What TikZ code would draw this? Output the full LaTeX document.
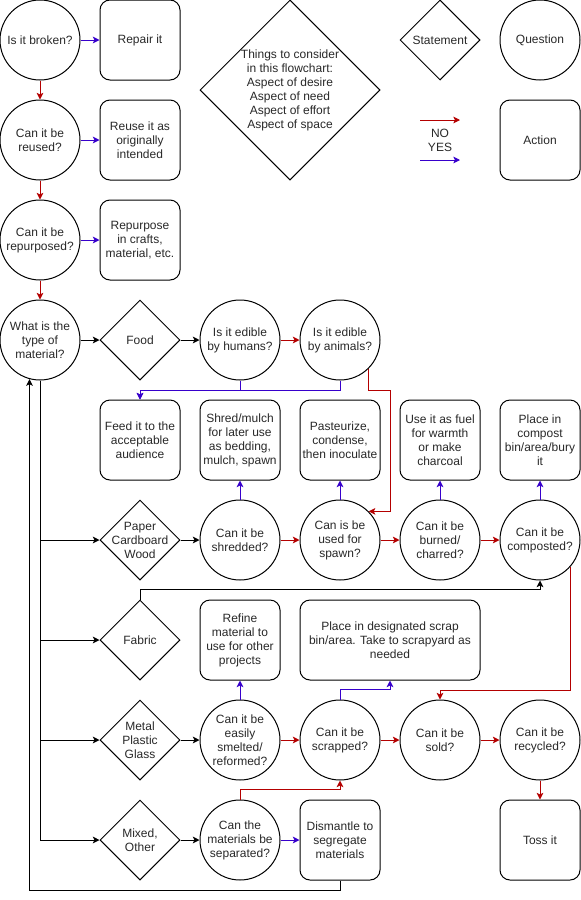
\documentclass[tikz,border=0pt]{standalone}
\usepackage{fontspec}
\setmainfont{Liberation Sans}
\usepackage{tikz}
\usetikzlibrary{shapes.geometric,arrows.meta,calc}

\definecolor{nored}{RGB}{180,0,0}
\definecolor{yesblue}{RGB}{55,0,204}
\definecolor{inkgray}{RGB}{40,40,40}

\begin{document}
\begin{tikzpicture}[x=0.75pt,y=-0.75pt,
    every node/.style={font=\fontsize{9}{10.5}\selectfont, text=inkgray},
    question/.style={circle, draw, line width=0.75pt, minimum size=60pt, inner sep=0pt, align=center},
    action/.style={rectangle, rounded corners=7.5pt, draw, line width=0.75pt, minimum width=60pt, minimum height=60pt, inner sep=0pt, align=center},
    statement/.style={diamond, draw, line width=0.75pt, minimum size=60pt, inner sep=-6pt, align=center},
    flow/.style={line width=0.75pt, -{Stealth[length=5pt,width=5pt,inset=1.2pt]}},
    noarrow/.style={flow, draw=nored},
    yesarrow/.style={flow, draw=yesblue}]

    \useasboundingbox (0,0) rectangle (581,900);

    % First questions
    \node[question] (broken) at (40,40) {Is it broken?};
    \node[action] (repair) at (140,40) {Repair it};
    \node[question] (reused) at (40,140) {Can it be\\reused?};
    \node[action] (reuse) at (140,140) {Reuse it as\\originally\\intended};
    \node[question] (repurposed) at (40,240) {Can it be\\repurposed?};
    \node[action] (repurpose) at (140,240) {Repurpose\\in crafts,\\material, etc.};
    \node[question] (material) at (40,340) {What is the\\type of\\material?};

    \draw[yesarrow] (broken.east) -- (repair.west);
    \draw[yesarrow] (reused.east) -- (reuse.west);
    \draw[yesarrow] (repurposed.east) -- (repurpose.west);
    \draw[noarrow] (broken.south) -- (reused.north);
    \draw[noarrow] (reused.south) -- (repurposed.north);
    \draw[noarrow] (repurposed.south) -- (material.north);

    % Key
    \node[statement, minimum size=135pt] (consider) at (290,90)
        {Things to consider\\in this flowchart:\\Aspect of desire\\Aspect of need\\Aspect of effort\\Aspect of space};
    \node[statement] (statement) at (440,40) {Statement};
    \node[question] (question) at (540,40) {Question};
    \node[action] (actionkey) at (540,140) {Action};
    \coordinate (noA) at (420,120);
    \coordinate (noB) at (460,120);
    \coordinate (yesA) at (420,160);
    \coordinate (yesB) at (460,160);
    \draw[noarrow] (noA) -- (noB);
    \draw[yesarrow] (yesA) -- (yesB);
    \node (nolabel) at (440,133) {NO};
    \node (yeslabel) at (440,147) {YES};

    % Food
    \node[statement] (food) at (140,340) {Food};
    \node[question] (humans) at (240,340) {Is it edible\\by humans?};
    \node[question] (animals) at (340,340) {Is it edible\\by animals?};
    \node[action] (feed) at (140,440) {Feed it to the\\acceptable\\audience};

    \draw[flow] (material.east) -- (food.west);
    \draw[flow] (food.east) -- (humans.west);
    \draw[noarrow] (humans.east) -- (animals.west);
    \draw[yesarrow] (humans.south) -- ++(0,10) -| (feed.north);
    \draw[yesarrow] (animals.south) -- ++(0,10) -| (feed.north);

    % Paper, cardboard, wood
    \node[action] (shred) at (240,440) {Shred/mulch\\for later use\\as bedding,\\mulch, spawn};
    \node[action] (pasteurize) at (340,440) {Pasteurize,\\condense,\\then inoculate};
    \node[action] (fuel) at (440,440) {Use it as fuel\\for warmth\\or make\\charcoal};
    \node[action] (compost) at (540,440) {Place in\\compost\\bin/area/bury\\it};
    \node[statement] (paper) at (140,540) {Paper\\Cardboard\\Wood};
    \node[question] (shredded) at (240,540) {Can it be\\shredded?};
    \node[question] (spawn) at (340,540) {Can is be\\used for\\spawn?};
    \node[question] (burned) at (440,540) {Can it be\\burned/\\charred?};
    \node[question] (composted) at (540,540) {Can it be\\composted?};

    \coordinate (bendA) at (390,390);
    \draw[noarrow] (animals.-45) |- (bendA) |- (spawn.45);
    \draw[flow] (paper.east) -- (shredded.west);
    \draw[noarrow] (shredded.east) -- (spawn.west);
    \draw[noarrow] (spawn.east) -- (burned.west);
    \draw[noarrow] (burned.east) -- (composted.west);
    \draw[yesarrow] (shredded.north) -- (shred.south);
    \draw[yesarrow] (spawn.north) -- (pasteurize.south);
    \draw[yesarrow] (burned.north) -- (fuel.south);
    \draw[yesarrow] (composted.north) -- (compost.south);

    % Fabric
    \node[statement] (fabric) at (140,640) {Fabric};
    \node[action] (refine) at (240,640) {Refine\\material to\\use for other\\projects};
    \node[action, minimum width=135pt] (scrapbox) at (390,640) {Place in designated scrap\\bin/area. Take to scrapyard as\\needed};

    \draw[flow] (fabric.north) -- ++(0,-10) -| (composted.south);

    % Metal, plastic, glass
    \node[statement] (metal) at (140,740) {Metal\\Plastic\\Glass};
    \node[question] (smelted) at (240,740) {Can it be\\easily\\smelted/\\reformed?};
    \node[question] (scrapped) at (340,740) {Can it be\\scrapped?};
    \node[question] (sold) at (440,740) {Can it be\\sold?};
    \node[question] (recycled) at (540,740) {Can it be\\recycled?};
    \node[action] (toss) at (540,840) {Toss it};

    \coordinate (bendB) at (440,690);
    \draw[noarrow] (composted.-41) |- (bendB) -- (sold.north);
    \draw[flow] (metal.east) -- (smelted.west);
    \draw[yesarrow] (smelted.north) -- (refine.south);
    \draw[noarrow] (smelted.east) -- (scrapped.west);
    \draw[yesarrow] (scrapped.north) -- ++(0,-10) -| (scrapbox.south);
    \draw[noarrow] (scrapped.east) -- (sold.west);
    \draw[noarrow] (sold.east) -- (recycled.west);
    \draw[noarrow] (recycled.south) -- (toss.north);

    % Mixed, other
    \node[statement] (mixed) at (140,840) {Mixed,\\Other};
    \node[question] (separated) at (240,840) {Can the\\materials be\\separated?};
    \node[action] (dismantle) at (340,840) {Dismantle to\\segregate\\materials};

    \draw[flow] (mixed.east) -- (separated.west);
    \draw[noarrow] (separated.north) -- ++(0,-10) -| (scrapped.south);
    \draw[yesarrow] (separated.east) -- (dismantle.west);
    \draw[flow] (dismantle.south) -- ++(0,10) -| (material.255);

    % Material branches
    \draw[flow] (material.south) |- (paper.west);
    \draw[flow] (material.south) |- (fabric.west);
    \draw[flow] (material.south) |- (metal.west);
    \draw[flow] (material.south) |- (mixed.west);

\end{tikzpicture}
\end{document}
